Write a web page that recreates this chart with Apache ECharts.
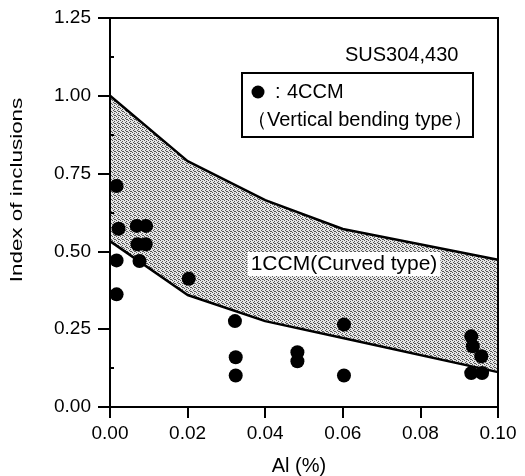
<!DOCTYPE html>
<html>
<head>
<meta charset="utf-8">
<script src="https://cdn.jsdelivr.net/npm/echarts@6/dist/echarts.min.js"></script>
<style>html,body{margin:0;padding:0;background:#fff;}#c{width:525px;height:476px;}</style>
</head>
<body>
<div id="c"></div>
<script>
// 4CCM (Vertical bending type) measurements
var alPct = [0.0017,0.0022,0.0017,0.0017,0.0069,0.0093,0.0071,0.0092,0.0076,0.0203,0.0322,0.0324,0.0324,0.0483,0.0483,0.0603,0.0603,0.0931,0.0935,0.0957,0.0931,0.0959];
var inclusionIdx = [0.710,0.573,0.471,0.362,0.582,0.582,0.523,0.523,0.469,0.412,0.276,0.160,0.101,0.176,0.147,0.265,0.101,0.227,0.195,0.163,0.109,0.109];
// 1CCM (Curved type) band
var bandAl = [0, 0.02, 0.04, 0.06, 0.10];
var bandUpper = [1.00, 0.79, 0.665, 0.572, 0.473];
var bandLower = [0.533, 0.36, 0.276, 0.222, 0.112];
var xTicks = [0, 0.02, 0.04, 0.06, 0.08, 0.10];
var yTicks = [0, 0.25, 0.5, 0.75, 1.0, 1.25];

var FONT = '"Liberation Sans", Arial, sans-serif';

// stipple pattern
var pc = document.createElement('canvas');
pc.width = 4; pc.height = 4;
var pctx = pc.getContext('2d');
pctx.fillStyle = '#e6e6e6'; pctx.fillRect(0,0,4,4);
pctx.fillStyle = '#555';
[[0,0],[2,1],[1,2],[3,3],[2,3]].forEach(function(p){ pctx.fillRect(p[0],p[1],1,1); });

var pts = alPct.map(function(x,i){ return [x, inclusionIdx[i]]; });
var lowerData = bandAl.map(function(x,i){ return [x, bandLower[i]]; });
var upperData = bandAl.map(function(x,i){ return [x, bandUpper[i]]; });

var chart = echarts.init(document.getElementById('c'), null, {renderer:'canvas'});
chart.setOption({
  animation: false,
  backgroundColor: '#fff',
  grid: {left:110, right:27, top:18, bottom:69, containLabel:false, outerBoundsMode:'none',
         show:true, borderColor:'#000', borderWidth:2, backgroundColor:'transparent', z:12},
  xAxis: {
    type:'value', min: xTicks[0], max: xTicks[xTicks.length-1], interval: 0.02, z:12,
    axisLine:{lineStyle:{color:'#000', width:2}},
    axisTick:{show:true, length:11, lineStyle:{color:'#000', width:2}},
    splitLine:{show:false},
    axisLabel:{margin:17, color:'#000', fontSize:19, fontFamily:FONT, formatter:function(v){return v.toFixed(2);}},
    name:'Al (%)', nameLocation:'middle', nameGap:49,
    nameTextStyle:{color:'#000', fontSize:20, fontFamily:FONT, padding:[0,10,0,0]}
  },
  yAxis: [{
    type:'value', min: yTicks[0], max: yTicks[yTicks.length-1], interval: 0.25, z:12,
    axisLine:{lineStyle:{color:'#000', width:2}},
    axisTick:{show:true, length:12, lineStyle:{color:'#000', width:2}},
    splitLine:{show:false},
    axisLabel:{margin:19, color:'#000', fontSize:19, fontFamily:FONT, formatter:function(v){return v.toFixed(2);}}
  },{
    type:'value', position:'left', min:0, max:1.25, interval:0.25, z:12,
    axisLine:{show:false}, axisLabel:{show:false}, splitLine:{show:false},
    axisTick:{show:false, inside:true},
    minorTick:{show:true, splitNumber:2, length:4, lineStyle:{color:'#000', width:2}}
  }],
  series: [
    {type:'line', name:'upper', data: upperData, symbol:'none',
     lineStyle:{color:'#000', width:2.5},
     areaStyle:{color:{image:pc, repeat:'repeat'}, opacity:1}, z:2},
    {type:'line', name:'lower', data: lowerData, symbol:'none',
     lineStyle:{color:'#000', width:2.5},
     areaStyle:{color:'#fff', opacity:1}, z:3},
    {type:'scatter', name:'4CCM', data: pts, symbol:'circle', symbolSize:14,
     itemStyle:{color:'#000', opacity:1}, z:5}
  ],
  graphic: [
    {type:'text', x:17, y:190, rotation:Math.PI/2, scaleX:1.32, z:10,
     style:{text:'Index of inclusions', fill:'#000', font:'17px ' + FONT, align:'center', verticalAlign:'middle'}},
    {type:'text', x:345, y:55, z:10,
     style:{text:'SUS304,430', fill:'#000', font:'20px ' + FONT, verticalAlign:'middle'}},
    {type:'rect', shape:{x:242, y:73, width:231, height:64}, z:10,
     style:{fill:'#fff', stroke:'#000', lineWidth:2}},
    {type:'circle', shape:{cx:258, cy:92, r:6.5}, z:11, style:{fill:'#000'}},
    {type:'text', x:275, y:92, z:11,
     style:{text:':', fill:'#000', font:'20px ' + FONT, verticalAlign:'middle'}},
    {type:'text', x:287, y:92, z:11,
     style:{text:'4CCM', fill:'#000', font:'20px ' + FONT, verticalAlign:'middle'}},
    {type:'text', x:247, y:120, z:11,
     style:{text:'（Vertical bending type）', fill:'#000', font:'20px ' + FONT, verticalAlign:'middle'}},
    {type:'text', x:344, y:264, z:11,
     style:{text:'1CCM(Curved type)', fill:'#000', font:'21px ' + FONT, align:'center', verticalAlign:'middle',
            backgroundColor:'#fff', padding:[2,3,1,3]}}
  ]
});
</script>
</body>
</html>
